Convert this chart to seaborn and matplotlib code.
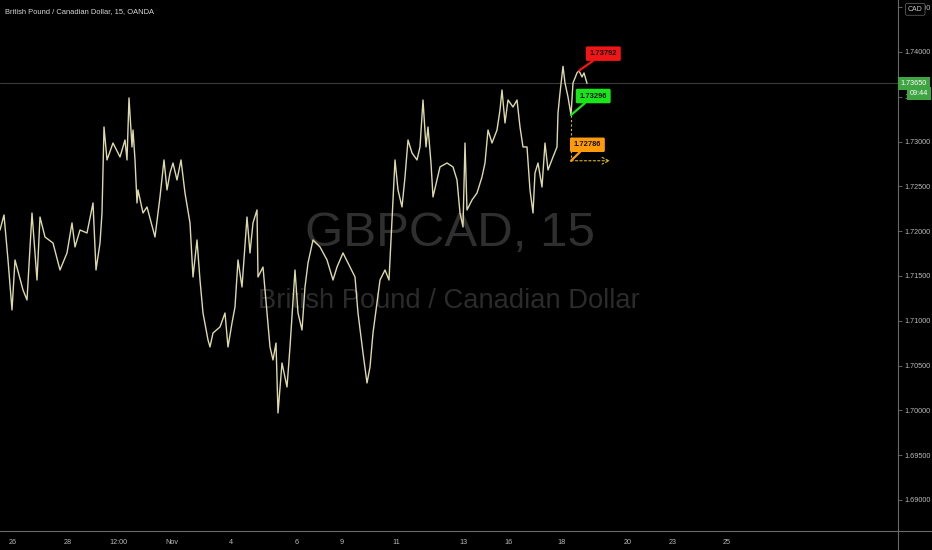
import pandas as pd
import seaborn as sns
import matplotlib.pyplot as plt
from matplotlib.lines import Line2D

# 15 min bars, index counted from the left edge of the chart
bars = [0, 12, 24, 36, 45, 57, 69, 81, 96, 111, 120, 135, 159, 180, 201, 216, 225, 240, 261, 279,
        288, 300, 306, 312, 321, 339, 360, 375, 381, 387, 396, 399, 405, 411, 414, 429, 441, 465, 474, 480,
        492, 501, 510, 519, 531, 543, 555, 570, 579, 591, 600, 609, 624, 630, 639, 660, 675, 684, 696, 705,
        714, 726, 741, 750, 759, 771, 774, 789, 801, 810, 819, 828, 834, 846, 861, 870, 885, 894, 906, 915,
        924, 939, 960, 981, 999, 1011, 1029, 1050, 1065, 1074, 1089, 1101, 1110, 1119, 1140, 1155, 1167, 1176, 1185, 1194,
        1206, 1215, 1224, 1236, 1251, 1260, 1269, 1278, 1284, 1293, 1299, 1311, 1320, 1341, 1359, 1371, 1380, 1389, 1395, 1401,
        1416, 1431, 1446, 1455, 1464, 1476, 1491, 1500, 1506, 1515, 1524, 1539, 1551, 1560, 1569, 1581, 1590, 1599, 1605, 1614,
        1626, 1635, 1644, 1659, 1671, 1674, 1680, 1689, 1695, 1704, 1713, 1719, 1731, 1737, 1746, 1752, 1761]

closes = [1.72013, 1.72181, 1.71679, 1.71121, 1.71679, 1.71511, 1.71344, 1.71232, 1.72203, 1.71455,
          1.72158, 1.71935, 1.71868, 1.71567, 1.71757, 1.72092, 1.71824, 1.72013, 1.71980, 1.72315,
          1.71567, 1.71868, 1.72203, 1.73163, 1.72795, 1.72984, 1.72828, 1.73018, 1.72795, 1.73487,
          1.72940, 1.73129, 1.72795, 1.72315, 1.72460, 1.72203, 1.72270, 1.71935, 1.72203, 1.72382,
          1.72795, 1.72460, 1.72650, 1.72761, 1.72571, 1.72795, 1.72426, 1.72092, 1.71489, 1.71902,
          1.71455, 1.71087, 1.70786, 1.70708, 1.70864, 1.70931, 1.71087, 1.70708, 1.70975, 1.71154,
          1.71679, 1.71377, 1.72158, 1.71757, 1.72092, 1.72237, 1.71489, 1.71600, 1.71087, 1.70708,
          1.70563, 1.70752, 1.69971, 1.70529, 1.70261, 1.70708, 1.71567, 1.71087, 1.70897, 1.71377,
          1.71645, 1.71902, 1.71824, 1.71679, 1.71455, 1.71600, 1.71757, 1.71600, 1.71489, 1.71087,
          1.70641, 1.70306, 1.70484, 1.70864, 1.71455, 1.71567, 1.71455, 1.72125, 1.72795, 1.72460,
          1.72270, 1.72605, 1.73018, 1.72873, 1.72795, 1.72940, 1.73464, 1.72940, 1.73163, 1.72761,
          1.72382, 1.72571, 1.72717, 1.72761, 1.72717, 1.72571, 1.72203, 1.72047, 1.72984, 1.72237,
          1.72348, 1.72426, 1.72605, 1.72761, 1.73129, 1.72984, 1.73129, 1.73353, 1.73576, 1.73208,
          1.73464, 1.73386, 1.73464, 1.73163, 1.72940, 1.72940, 1.72460, 1.72203, 1.72650, 1.72761,
          1.72493, 1.72984, 1.72683, 1.72828, 1.72940, 1.73319, 1.73542, 1.73840, 1.73654, 1.73498,
          1.73296, 1.73654, 1.73766, 1.73792, 1.73721, 1.73766, 1.73650]

last_price = 1.73650
countdown = '09:44'

# pivot labels (bar, price)
pivot_high = (1737, 1.73792)
pivot_low = (1713, 1.73296)
target = (1713, 1.72786)
target_end = 1830

price_ticks = [1.690, 1.695, 1.700, 1.705, 1.710, 1.715, 1.720, 1.725, 1.730, 1.735, 1.740, 1.745]
date_ticks = [39, 204, 354, 516, 693, 891, 1026, 1188, 1389, 1527, 1686, 1884, 2019, 2181]
date_labels = ['26', '28', '12:00', 'Nov', '4', '6', '9', '11', '13', '16', '18', '20', '23', '25']

sns.set_theme(style='dark', rc={'axes.facecolor': 'black', 'figure.facecolor': 'black',
                                'axes.grid': False})
plt.rcParams['font.family'] = ['Liberation Sans', 'DejaVu Sans']

df = pd.DataFrame({'bar': bars, 'close': closes})

fig = plt.figure(figsize=(9.32, 5.5), dpi=100)
ax = fig.add_axes([0, 19 / 550, 898 / 932, 531 / 550])

# watermark
ax.text(0.501, 0.561, 'GBPCAD, 15', transform=ax.transAxes, ha='center', va='center',
        fontsize=35.5, color='#2f2f2f', zorder=0)
ax.text(0.500, 0.433, 'British Pound / Canadian Dollar', transform=ax.transAxes, ha='center',
        va='center', fontsize=19.7, color='#2b2b2b', zorder=0)

ax.axhline(last_price, color='#3a3a3a', lw=0.8, zorder=1)

sns.lineplot(data=df, x='bar', y='close', ax=ax, color='#ddd9a8', lw=1.0,
             estimator=None, zorder=3)

ax.set_xlim(0, 2694)
ax.set_ylim(1.68654, 1.74580)
ax.yaxis.tick_right()
ax.set_yticks(price_ticks)
ax.set_yticklabels([f'{t:.5f}' for t in price_ticks])
ax.set_xticks(date_ticks)
ax.set_xticklabels(date_labels)
ax.tick_params(axis='both', colors='#6f6f6f', labelcolor='#bababa', labelsize=5.2,
               length=3, width=0.6, direction='out')
ax.tick_params(axis='x', pad=3)
ax.tick_params(axis='y', pad=1.5)
ax.set_xlabel('')
ax.set_ylabel('')
for s in ['top', 'left']:
    ax.spines[s].set_visible(False)
for s in ['right', 'bottom']:
    ax.spines[s].set_color('#6a6a6a')
    ax.spines[s].set_linewidth(0.8)

fig.add_artist(Line2D([898 / 932] * 2, [0, 19 / 550], transform=fig.transFigure,
                      color='#6a6a6a', lw=0.8))
fig.add_artist(Line2D([898 / 932, 1], [19 / 550] * 2, transform=fig.transFigure,
                      color='#6a6a6a', lw=0.8))

ax.text(0.0055, 0.979, 'British Pound / Canadian Dollar, 15, OANDA', transform=ax.transAxes,
        fontsize=5.4, color='#d8d8d8', va='center')

# pivot callouts
def callout(pt, txt, fc, dx, dy):
    ax.annotate(txt, xy=pt, xytext=(dx, dy), textcoords='offset points', ha='center',
                va='center', fontsize=5.4, color='#111111', fontweight='bold',
                bbox=dict(boxstyle='round,pad=0.5,rounding_size=0.2', fc=fc, ec='none'),
                arrowprops=dict(arrowstyle='-', color=fc, lw=1.6, shrinkA=0, shrinkB=0),
                zorder=8)

ax.plot([pivot_low[0], target[0]], [pivot_low[1], target[1]], ls=(0, (2, 2)),
        color='#d8b820', lw=0.8, zorder=6)
ax.annotate('', xy=(target_end, target[1]), xytext=target,
            arrowprops=dict(arrowstyle='->', ls=(0, (2, 2)), color='#d8b820', lw=0.8,
                            shrinkA=0, shrinkB=0), zorder=6)

callout(pivot_high, f'{pivot_high[1]:.5f}', '#f21515', 17.5, 12.2)
callout(pivot_low, f'{pivot_low[1]:.5f}', '#19e619', 16.0, 13.7)
callout(target, f'{target[1]:.5f}', '#ff9a0a', 11.8, 11.5)

# price scale tags
ytr = ax.get_yaxis_transform()
ax.text(1.003, last_price, f'{last_price:.5f}', transform=ytr, ha='left', va='center',
        fontsize=5.2, color='white', clip_on=False, zorder=10,
        bbox=dict(boxstyle='square,pad=0.4', fc='#3fa442', ec='none'))
ax.text(1.013, 1.73535, countdown, transform=ytr, ha='left', va='center',
        fontsize=5.2, color='white', clip_on=False, zorder=10,
        bbox=dict(boxstyle='square,pad=0.4', fc='#3fa442', ec='none'))
fig.text(0.982, 0.983, 'CAD', ha='center', va='center', fontsize=5, color='#c8c8c8', zorder=10,
         bbox=dict(boxstyle='round,pad=0.35,rounding_size=0.25', fc='black', ec='#5a5a5a', lw=0.6))

fig.savefig('out.png', dpi=100, facecolor='black')
